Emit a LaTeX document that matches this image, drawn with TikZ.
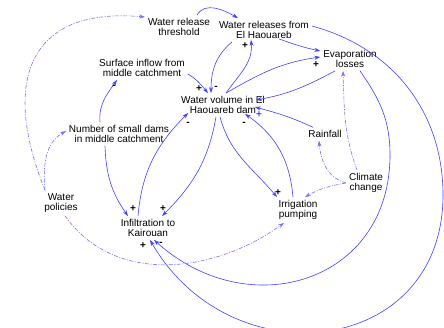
\documentclass[tikz,border=0pt]{standalone}
\usepackage{fontspec}
\setmainfont{Liberation Sans}
\usetikzlibrary{positioning,arrows.meta,calc}
\definecolor{linkblue}{RGB}{64,64,255}
\definecolor{softblue}{RGB}{115,115,250}

\begin{document}
\begin{tikzpicture}[x=1pt, y=1pt, >={Stealth[length=6pt,width=4pt]},
  every node/.style={align=center, inner sep=1pt, outer sep=2pt, font=\fontsize{10}{10.5}\selectfont},
  link/.style={draw=linkblue, line width=0.6pt, ->},
  soft/.style={draw=softblue, line width=0.6pt, ->, dash pattern=on 4pt off 1.5pt on 1pt off 1.5pt},
  sgn/.style={inner sep=0pt, outer sep=0pt, font=\fontsize{10}{10}\selectfont\bfseries}]
\useasboundingbox (0,0) rectangle (444,-328);

\node (thr) at (179,-27) {Water release\\threshold};
\node (rel) at (264,-30) {Water releases from\\El Haouareb};
\node (evap) at (350,-59) {Evaporation\\losses};
\node (inflow) at (142,-68) {Surface inflow from\\middle catchment};
\node (vol) at (223,-105) {Water volume in El\\Haouareb dam};
\node (dams) at (119,-134) {Number of small dams\\in middle catchment};
\node (rain) at (325,-134) {Rainfall};
\node (clim) at (366,-183) {Climate\\change};
\node (pol) at (61,-203) {Water\\policies};
\node (inf) at (148,-228) {Infiltration to\\Kairouan};
\node (irr) at (298,-210) {Irrigation\\pumping};

% dam balance
\path[link]
([xshift=18pt]thr.north) to[out=60, in=150] ([xshift=-26pt]rel.north);
\path[link]
([xshift=-32pt]rel.south) to[out=-140, in=90] ([xshift=-12pt]vol.north);
\path[link]
([yshift=-6pt]inflow.east) to[out=-30, in=130] ([xshift=-15pt]vol.north);
\path[link]
([xshift=-19pt]dams.north) to[out=95, in=235] ([xshift=-25pt]inflow.south);
\path[link]
([xshift=-14pt]dams.south) to[out=-88, in=125] ([xshift=-20pt]inf.north);
\path[link]
([xshift=-7pt]vol.south) to[out=-100, in=45] ([xshift=14pt]inf.north);
\path[link]
([xshift=-10pt]inf.north) to[out=85, in=225] ([shift={(10pt,4pt)}]vol.south west);
\path[link]
([xshift=3pt]vol.north) to[out=55, in=-85] ([shift={(-13pt,2pt)}]rel.south);
\path[link]
([xshift=3pt]vol.north) to[out=30, in=188] ([yshift=2pt]evap.west);
\path[link]
([shift={(15pt,3pt)}]rel.south) to[out=-20, in=168] ([yshift=8pt]evap.west);
\path[link]
([xshift=-15pt]evap.south) to[out=208, in=10] ([shift={(-12pt,5pt)}]vol.east);
\path[link]
([xshift=-12pt]rain.north) to[out=155, in=-15] ([shift={(-13pt,-2pt)}]vol.east);
\path[link]
([xshift=-5pt]irr.north) to[out=95, in=-35] ([shift={(22pt,3pt)}]vol.south);
\path[link]
([xshift=-3pt]vol.south) to[out=-75, in=130] ([xshift=-21pt]irr.north);

% long loops to Kairouan
\path[link]
([yshift=4pt]rel.east) to[out=-15, in=90] (443,-195)
  to[out=-90, in=-60, looseness=1.4] ([xshift=2pt]inf.south);
\path[link]
([xshift=10pt]evap.south) to[out=-55, in=90] (390,-155)
  to[out=-90, in=-42, looseness=1.3] ([xshift=6pt]inf.south);

% outside drivers
\path[soft]
([xshift=-16pt]pol.north) to[out=112, in=175, looseness=1.5] ([yshift=10pt]thr.west);
\path[soft]
([xshift=-16pt]pol.north) to[out=95, in=210] ([yshift=3pt]dams.west);
\path[soft]
([xshift=4pt]pol.south) to[out=-55, in=-144] ([xshift=-14pt]irr.south);
\path[soft]
([xshift=-9pt]clim.north) to[out=110, in=-88] ([xshift=-7pt]evap.south);
\path[soft]
(clim.west) to[out=165, in=-85] ([xshift=-6pt]rain.south);
\path[soft]
(clim.west) to[out=190, in=30] ([xshift=7pt]irr.north);

% polarities
\node[sgn] (s1) at (216,-88) {-};
\node[sgn] (s2) at (199,-89) {+};
\node[sgn] (s3) at (114,-87) {-};
\node[sgn] (s4) at (133,-209) {+};
\node[sgn] (s5) at (163,-209) {+};
\node[sgn] (s6) at (188,-124) {-};
\node[sgn] (s7) at (245,-46) {+};
\node[sgn] (s8) at (316,-65) {+};
\node[sgn, text=linkblue] (s9) at (259,-115) {+};
\node[sgn] (s10) at (244,-124) {-};
\node[sgn] (s11) at (278,-193) {+};
\node[sgn] (s12) at (143,-246) {+};
\node[sgn] (s13) at (161,-244) {-};
\end{tikzpicture}
\end{document}
